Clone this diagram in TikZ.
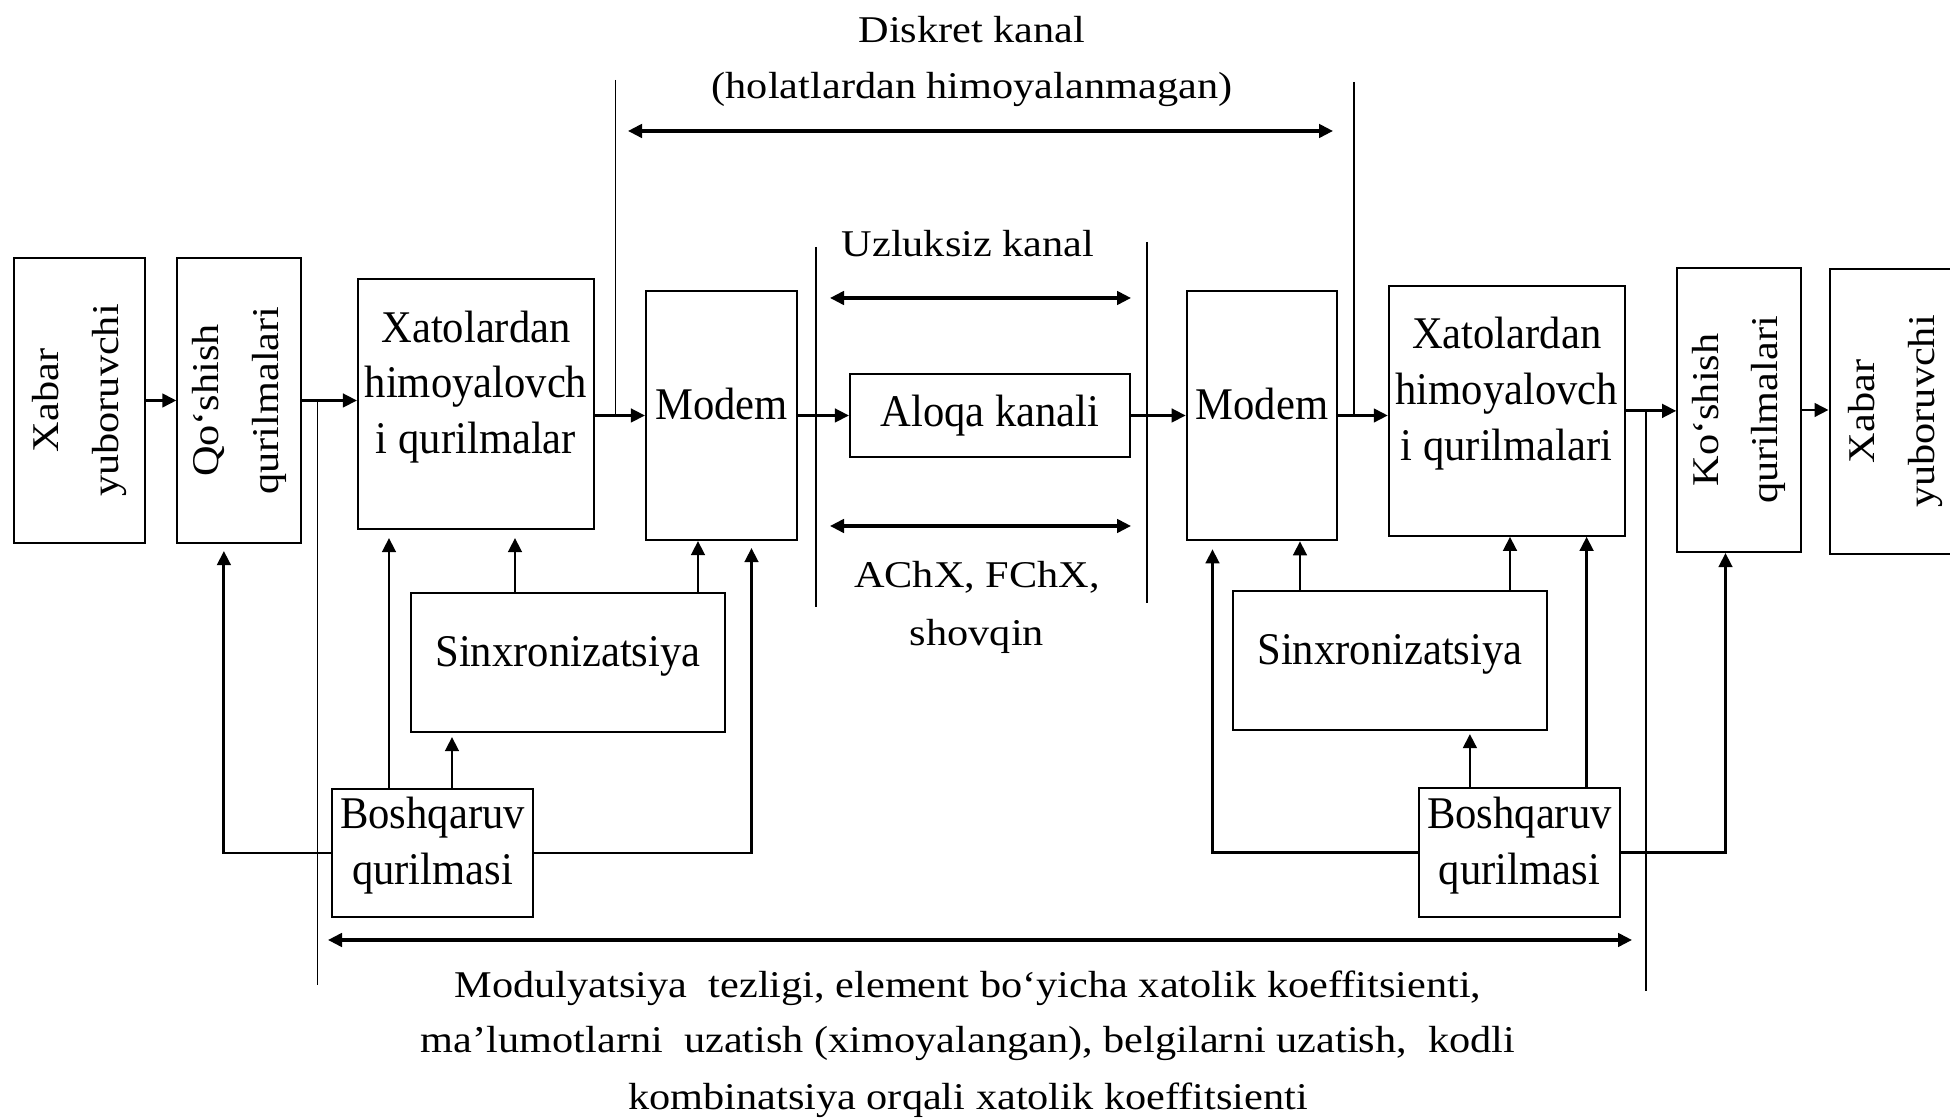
\documentclass[tikz,border=0pt]{standalone}
\usepackage{fontspec}
\setmainfont{Liberation Serif}[FakeStretch=1.12]
\newfontfamily\blokfont{Liberation Serif}[FakeStretch=0.94]
\usepackage{tikz}
\usetikzlibrary{arrows.meta, positioning, calc}

\begin{document}
\begin{tikzpicture}[>={Triangle[length=1.4mm, width=1.35mm]},
    blok/.style={draw, line width=0.6pt, inner sep=0pt},
    yozuv/.style={font=\blokfont\fontsize{12.9}{15.9}\selectfont, align=center, inner sep=0pt},
    matn/.style={font=\fontsize{10.75}{15.6}\selectfont, inner sep=0pt, anchor=base},
    tik/.style={font=\fontsize{10.75}{17}\selectfont, align=center, inner sep=0pt, rotate=90},
    oq/.style={->, line width=0.8pt},
    ikki/.style={<->, line width=0.9pt},
    chiziq/.style={line width=0.55pt}]
  \useasboundingbox (0,0) rectangle (19.5,11.2);

  % Uzatuvchi tomon
  \node[blok, minimum width=1.31cm, minimum height=2.85cm] (xabarL) at (0.794,7.195) {};
  \node[tik] (xabarLt) at (xabarL) {Xabar\\yuboruvchi};
  \node[blok, minimum width=1.24cm, minimum height=2.85cm] (qoshL) at (2.394,7.195) {};
  \node[tik] (qoshLt) at (qoshL) {Qo‘shish\\qurilmalari};
  \node[blok, minimum width=2.36cm, minimum height=2.50cm] (xatoL) at (4.76,7.16) {};
  \node[yozuv] (xatoLt) at ([yshift=1.7mm]xatoL.center) {Xatolardan\\himoyalovch\\i qurilmalar};
  \node[blok, minimum width=1.51cm, minimum height=2.49cm] (modemL) at (7.215,7.045) {};
  \node[yozuv] (modemLt) at ([yshift=1.1mm]modemL.center) {Modem};
  \node[blok, minimum width=3.14cm, minimum height=1.39cm] (sinxL) at (5.68,4.575) {};
  \node[yozuv] (sinxLt) at ([yshift=0.65mm]sinxL.center) {Sinxronizatsiya};
  \node[blok, minimum width=2.01cm, minimum height=1.28cm] (boshL) at (4.325,2.67) {};
  \node[yozuv] (boshLt) at ([yshift=0.7mm]boshL.center) {Boshqaruv\\qurilmasi};

  % Aloqa kanali
  \node[blok, yozuv, minimum width=2.80cm, minimum height=0.83cm] (aloqa) at (9.90,7.045) {Aloqa kanali};

  % Qabul qiluvchi tomon
  \node[blok, minimum width=1.505cm, minimum height=2.495cm] (modemR) at (12.62,7.045) {};
  \node[yozuv] (modemRt) at ([yshift=1.1mm]modemR.center) {Modem};
  \node[blok, minimum width=2.357cm, minimum height=2.497cm] (xatoR) at (15.067,7.091) {};
  \node[yozuv] (xatoRt) at ([yshift=1.75mm]xatoR.center) {Xatolardan\\himoyalovch\\i qurilmalari};
  \node[blok, minimum width=1.235cm, minimum height=2.84cm] (qoshR) at (17.39,7.10) {};
  \node[tik] (qoshRt) at (qoshR) {Ko‘shish\\qurilmalari};
  \node[blok, minimum width=1.314cm, minimum height=2.85cm] (xabarR) at (18.953,7.085) {};
  \node[tik] (xabarRt) at (xabarR) {Xabar\\yuboruvchi};
  \node[blok, minimum width=3.135cm, minimum height=1.39cm] (sinxR) at (13.90,4.595) {};
  \node[yozuv] (sinxRt) at ([yshift=0.6mm]sinxR.center) {Sinxronizatsiya};
  \node[blok, minimum width=2.01cm, minimum height=1.29cm] (boshR) at (15.194,2.676) {};
  \node[yozuv] (boshRt) at ([yshift=0.65mm]boshR.center) {Boshqaruv\\qurilmasi};

  % Asosiy zanjir
  \draw[oq] (xabarL) -- (qoshL);
  \draw[oq] (qoshL.east) -- (qoshL.east -| xatoL.west);
  \draw[oq] (xatoL.east |- modemL.west) -- (modemL.west);
  \draw[oq] (modemL) -- (aloqa);
  \draw[oq] (aloqa) -- (modemR);
  \draw[oq] (modemR.east) -- (modemR.east -| xatoR.west);
  \draw[oq] (xatoR.east) -- (xatoR.east -| qoshR.west);
  \draw[oq] (qoshR.east) -- (qoshR.east -| xabarR.west);

  % Boshqaruv va sinxronizatsiya (chap)
  \draw[oq, shorten >=0.8mm] ([xshift=-4.35mm]boshL.north) -- ([xshift=-4.35mm]boshL.north |- xatoL.south);
  \draw[oq, shorten >=0.4mm] ([xshift=1.95mm]boshL.north) -- ([xshift=1.95mm]boshL.north |- sinxL.south);
  \draw[oq, shorten >=0.8mm] ([xshift=-5.3mm]sinxL.north) -- ([xshift=-5.3mm]sinxL.north |- xatoL.south);
  \draw[oq] ([xshift=13mm]sinxL.north) -- ([xshift=13mm]sinxL.north |- modemL.south);
  \draw[oq, shorten >=0.7mm] (boshL.east) -| ([xshift=3mm]modemL.south);
  \draw[oq, shorten >=0.7mm] (boshL.west) -| ([xshift=-1.55mm]qoshL.south);

  % Boshqaruv va sinxronizatsiya (o'ng)
  \draw[oq, shorten >=0.8mm] (boshR.west) -| ([xshift=-4.95mm]modemR.south);
  \draw[oq] ([xshift=-9mm]sinxR.north) -- ([xshift=-9mm]sinxR.north |- modemR.south);
  \draw[oq, shorten >=0.3mm] ([xshift=-4.95mm]boshR.north) -- ([xshift=-4.95mm]boshR.north |- sinxR.south);
  \draw[oq] ([xshift=12mm]sinxR.north) -- ([xshift=12mm]sinxR.north |- xatoR.south);
  \draw[oq] ([xshift=6.72mm]boshR.north) -- ([xshift=6.72mm]boshR.north |- xatoR.south);
  \draw[oq] (boshR.east) -| ([xshift=-1.35mm]qoshR.south);

  % Diskret kanal chegaralari
  \coordinate (dL) at (6.155,10.40);
  \coordinate (dR) at (13.54,10.38);
  \draw[chiziq] (dL) -- (dL |- modemL.west);
  \draw[chiziq] (dR) -- (dR |- modemR.east);
  \draw[ikki] (6.28,9.89) -- (13.33,9.89);
  \node[matn] (diskret) at (9.72,10.77) {Diskret kanal};
  \node[matn] (holat) at (9.72,10.21) {(holatlardan himoyalanmagan)};

  % Uzluksiz kanal chegaralari
  \draw[chiziq] (8.16,8.73) -- (8.16,5.13);
  \draw[chiziq] (11.47,8.78) -- (11.47,5.166);
  \draw[ikki] (8.30,8.22) -- (11.31,8.22);
  \draw[ikki] (8.30,5.94) -- (11.31,5.94);
  \node[matn] (uzluksiz) at (9.68,8.63) {Uzluksiz kanal};
  \node[matn] (achx) at (9.77,5.32) {AChX, FChX,};
  \node[matn] (shovqin) at (9.77,4.745) {shovqin};

  % Pastki chegaralar
  \coordinate (pL) at (3.175,1.35);
  \coordinate (pR) at (16.46,1.29);
  \draw[chiziq] (pL |- qoshL.east) -- (pL);
  \draw[chiziq] (pR |- xatoR.east) -- (pR);
  \draw[ikki] (3.28,1.80) -- (16.32,1.80);
  \node[matn] (past1) at (9.68,1.22) {Modulyatsiya\ \ tezligi, element bo‘yicha xatolik koeffitsienti,};
  \node[matn] (past2) at (9.68,0.67) {ma’lumotlarni\ \ uzatish (ximoyalangan), belgilarni uzatish,\ \ kodli};
  \node[matn] (past3) at (9.68,0.10) {kombinatsiya orqali xatolik koeffitsienti};
\end{tikzpicture}
\end{document}
